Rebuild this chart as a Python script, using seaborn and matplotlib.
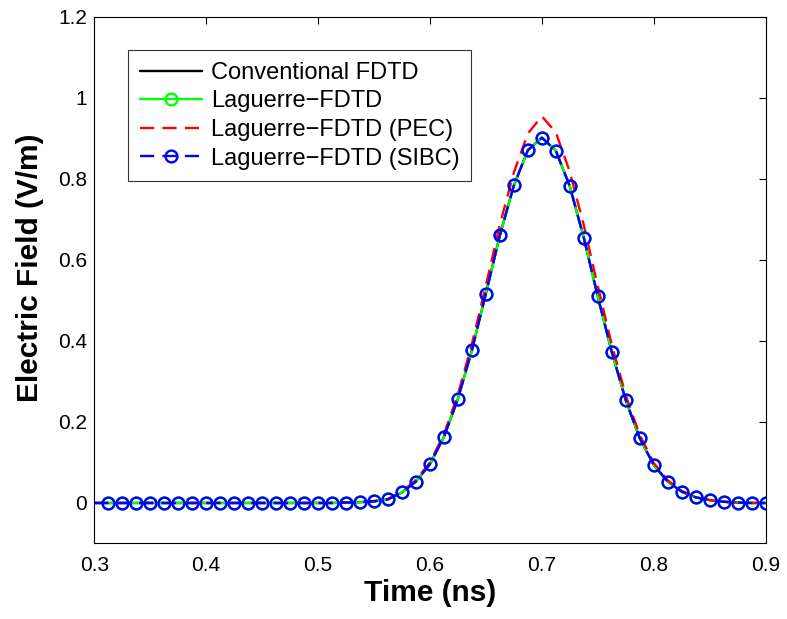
import numpy as np
import pandas as pd
import matplotlib
matplotlib.use("Agg")
import matplotlib.pyplot as plt
from matplotlib.ticker import FuncFormatter
import seaborn as sns

# time samples (ns), one every 0.0125 ns from 0.3 to 0.9
time_ns = np.round(np.linspace(0.3, 0.9, 49), 4)

# field (V/m) - conventional / laguerre / SIBC all sit on top of each other
e_conv = [0.0, 0.0, 0.0, 0.0, 0.0, 0.0, 0.0, 0.0, 0.0, 0.0,
          0.0, 0.0, 0.0, 0.0, 0.0, 0.0, 0.0, 0.0, 0.001, 0.002,
          0.004, 0.009, 0.026, 0.053, 0.096, 0.163, 0.257, 0.377, 0.517, 0.661,
          0.784, 0.871, 0.902, 0.870, 0.782, 0.655, 0.510, 0.373, 0.254, 0.160,
          0.094, 0.053, 0.028, 0.014, 0.007, 0.003, 0.001, 0.0, 0.0]
e_lag = [0.0, 0.0, 0.0, 0.0, 0.0, 0.0, 0.0, 0.0, 0.0, 0.0,
         0.0, 0.0, 0.0, 0.0, 0.0, 0.0, 0.0, 0.0, 0.001, 0.002,
         0.004, 0.009, 0.026, 0.053, 0.096, 0.163, 0.257, 0.377, 0.517, 0.661,
         0.784, 0.871, 0.902, 0.870, 0.782, 0.655, 0.510, 0.373, 0.254, 0.160,
         0.094, 0.053, 0.028, 0.014, 0.007, 0.003, 0.001, 0.0, 0.0]
e_pec = [0.0, 0.0, 0.0, 0.0, 0.0, 0.0, 0.0, 0.0, 0.0, 0.0,
         0.0, 0.0, 0.0, 0.0, 0.0, 0.0, 0.0, 0.0, 0.001, 0.002,
         0.005, 0.010, 0.028, 0.057, 0.100, 0.170, 0.268, 0.393, 0.537, 0.687,
         0.816, 0.912, 0.955, 0.915, 0.818, 0.686, 0.536, 0.391, 0.266, 0.168,
         0.099, 0.056, 0.030, 0.015, 0.007, 0.003, 0.001, 0.0, 0.0]
e_sibc = [0.0, 0.0, 0.0, 0.0, 0.0, 0.0, 0.0, 0.0, 0.0, 0.0,
          0.0, 0.0, 0.0, 0.0, 0.0, 0.0, 0.0, 0.0, 0.001, 0.002,
          0.004, 0.009, 0.026, 0.053, 0.096, 0.163, 0.257, 0.377, 0.517, 0.661,
          0.784, 0.871, 0.902, 0.870, 0.782, 0.655, 0.510, 0.373, 0.254, 0.160,
          0.094, 0.053, 0.028, 0.014, 0.007, 0.003, 0.001, 0.0, 0.0]

series_names = ["Conventional FDTD", "Laguerre\u2212FDTD",
                "Laguerre\u2212FDTD (PEC)", "Laguerre\u2212FDTD (SIBC)"]

df = pd.DataFrame({"t": time_ns, "conv": e_conv, "lag": e_lag,
                   "pec": e_pec, "sibc": e_sibc})

sns.set_style("white")
plt.rcParams["font.family"] = ["Liberation Sans", "DejaVu Sans"]
plt.rcParams["xtick.direction"] = "in"
plt.rcParams["ytick.direction"] = "in"
plt.rcParams["text.color"] = "black"
plt.rcParams["axes.labelcolor"] = "black"

fig = plt.figure(figsize=(7.87, 6.19), dpi=100)
ax = fig.add_axes([0.1198, 0.122, 0.853, 0.8506])

lw = 1.7
ms, mw = 8.5, 1.7
mk = slice(1, None)  # no marker on the very first sample
sns.lineplot(data=df, x="t", y="conv", ax=ax, color="black", lw=lw,
             label=series_names[0])
sns.lineplot(data=df, x="t", y="lag", ax=ax, color="#00ff00", lw=lw,
             marker="o", markersize=ms, mfc="none", mec="#00ff00", mew=mw,
             markevery=mk, label=series_names[1])
sns.lineplot(data=df, x="t", y="pec", ax=ax, color="#ff0000", lw=lw,
             linestyle=(0, (6, 3.5)), label=series_names[2])
sns.lineplot(data=df, x="t", y="sibc", ax=ax, color="#0000ff", lw=lw,
             linestyle=(0, (6, 3.5)), marker="o", markersize=ms, mfc="none",
             mec="#0000ff", mew=mw, markevery=mk, label=series_names[3])

ax.set_xlim(0.3, 0.9)
ax.set_ylim(-0.1, 1.2)
ax.set_xticks([0.3, 0.4, 0.5, 0.6, 0.7, 0.8, 0.9])
ax.set_yticks([0, 0.2, 0.4, 0.6, 0.8, 1.0, 1.2])
ax.yaxis.set_major_formatter(FuncFormatter(lambda v, p: "%g" % round(v, 2)))
ax.tick_params(labelsize=15, length=5, width=0.8, top=True, right=True,
               colors="black")
ax.tick_params(axis="x", pad=9)
ax.tick_params(axis="y", pad=5)
for s in ax.spines.values():
    s.set_visible(True)
    s.set_color("black")
    s.set_linewidth(0.8)

ax.set_xlabel("Time (ns)", fontsize=21.5, fontweight="bold", labelpad=3)
ax.set_ylabel("Electric Field (V/m)", fontsize=21.5, fontweight="bold")
ax.yaxis.set_label_coords(-0.075, 0.523)

leg = ax.legend(loc="upper left", bbox_to_anchor=(128 / 787, 1 - 50 / 619),
                bbox_transform=fig.transFigure, borderaxespad=0,
                fontsize=17, handlelength=2.65,
                frameon=True, fancybox=False, edgecolor="black",
                borderpad=0.5, labelspacing=0.28, handletextpad=0.35)
leg.get_frame().set_linewidth(0.8)
for t in leg.get_texts():
    t.set_color("black")

fig.savefig("out.png", dpi=100)
